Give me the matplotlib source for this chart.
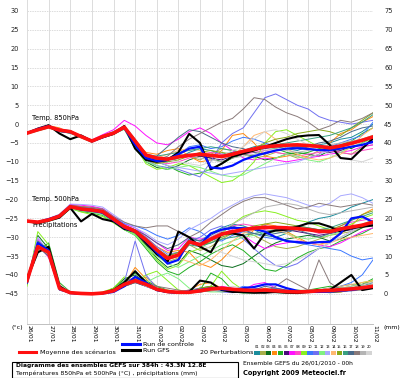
import matplotlib
matplotlib.use('Agg')
import matplotlib.pyplot as plt
from matplotlib.lines import Line2D
from matplotlib.patches import Rectangle
import numpy as np

# time axis in days from 26/01 00h, 12 h steps
days = np.arange(0, 16.01, 0.5)
date_labels = ['26/01', '27/01', '28/01', '29/01', '30/01', '31/01', '01/02', '02/02', '03/02',
               '04/02', '05/02', '06/02', '07/02', '08/02', '09/02', '10/02', '11/02']

###########################################################################
# Temp 850 hPa
t850_mean = [-2.4, -1.5, -0.7, -1.6, -2.0, -3.3, -4.5, -3.3, -2.4, -0.8,
             -4.5, -8.2, -9.0, -9.3, -8.7, -8.3, -8.0, -8.3, -8.6, -8.0, -7.2, -6.6, -6.0,
             -5.8, -5.6, -5.5, -5.7, -5.9, -6.3, -5.8, -5.1, -4.3, -3.4]
t850_ctrl = [-2.4, -1.3, -0.5, -1.8, -2.2, -3.2, -4.6, -3.5, -2.5, -1.0,
             -5.5, -9.0, -9.8, -9.5, -8.0, -6.5, -6.0, -11.5, -11.8, -11.0, -9.5, -8.5, -7.7,
             -7.0, -6.5, -6.4, -6.6, -6.9, -6.9, -6.5, -6.0, -5.5, -4.7]
t850_gfs = [-2.4, -1.2, -0.3, -2.5, -4.0, -3.0, -4.5, -3.5, -2.6, -0.5,
            -6.5, -9.5, -10.0, -9.5, -7.5, -2.6, -5.0, -12.0, -10.5, -8.6, -7.8, -7.0, -6.0,
            -5.0, -4.0, -3.3, -3.0, -2.9, -5.5, -9.0, -9.3, -6.5, -3.8]
t850_pert = [
    [-2.3, -1.4, -0.9, -1.2, -2.2, -3.5, -4.3, -3.0, -2.0, -0.5,
     -4.0, -8.0, -9.5, -10.0, -9.0, -7.5, -6.5, -7.0, -8.0, -7.5, -7.0, -6.0, -5.5, -6.0, -6.5, -7.0, -6.0, -5.5, -5.0, -4.0, -3.5, -2.0, 0.0],
    [-2.5, -1.7, -0.6, -1.8, -1.9, -3.0, -4.6, -3.6, -2.8, -1.2,
     -5.5, -9.0, -10.5, -9.0, -8.0, -8.5, -9.5, -8.0, -6.5, -7.0, -8.0, -9.0, -8.5, -7.5, -8.0, -9.0, -8.5, -7.0, -6.5, -7.5, -8.0, -6.0, -5.5],
    [-2.2, -1.6, -0.8, -1.5, -1.7, -3.2, -4.4, -3.1, -2.5, -1.0,
     -6.0, -10.0, -11.5, -12.0, -11.0, -9.5, -8.5, -9.0, -10.0, -9.0, -8.0, -8.5, -9.5, -9.0, -8.0, -7.5, -8.0, -8.5, -7.0, -6.0, -6.5, -5.0, -3.5],
    [-2.4, -1.3, -0.4, -1.0, -2.3, -3.4, -4.7, -3.2, -2.2, -0.9,
     -4.5, -7.5, -8.0, -7.0, -6.5, -8.5, -10.0, -9.5, -7.0, -3.0, -2.5, -5.0, -8.5, -9.0, -8.5, -8.0, -9.0, -8.0, -5.0, -2.5, -1.5, 0.5, 2.0],
    [-2.6, -1.8, -1.0, -2.0, -2.4, -3.6, -4.8, -3.4, -2.6, -1.3,
     -6.5, -9.5, -10.0, -11.0, -12.5, -13.5, -13.0, -12.0, -10.5, -9.0, -7.5, -6.5, -6.0, -6.5, -7.5, -8.0, -7.5, -6.5, -6.0, -5.5, -4.5, -2.5, -1.0],
    [-2.3, -1.5, -0.7, -1.4, -2.1, -3.3, -4.5, -3.3, -2.3, -0.7,
     -5.0, -8.5, -9.5, -9.0, -8.5, -8.0, -8.5, -9.0, -9.5, -8.5, -7.5, -7.0, -6.5, -6.0, -5.5, -6.0, -6.5, -7.0, -7.5, -7.0, -6.0, -5.5, -4.5],
    [-2.4, -1.6, -0.5, -1.3, -1.8, -3.1, -4.2, -2.8, -1.5, 1.0,
     -0.5, -3.0, -5.0, -5.5, -4.0, -2.0, -1.0, -2.5, -5.0, -7.0, -9.0, -9.5, -9.0, -9.5, -10.0, -9.5, -9.0, -8.5, -8.0, -7.5, -7.0, -6.0, -5.5],
    [-2.5, -1.5, -0.8, -1.7, -2.0, -3.4, -4.6, -3.4, -2.4, -0.6,
     -5.5, -9.0, -10.0, -10.5, -10.0, -9.0, -8.0, -7.5, -8.0, -8.5, -8.0, -7.5, -7.0, -7.5, -8.0, -8.5, -8.0, -7.5, -7.0, -7.5, -8.0, -7.0, -6.5],
    [-2.4, -1.4, -0.6, -1.6, -2.1, -3.2, -4.5, -3.5, -2.7, -1.1,
     -6.0, -10.5, -12.0, -11.5, -10.5, -11.0, -12.5, -14.0, -15.5, -15.0, -13.0, -10.0, -5.0, -2.0, -1.5, -3.0, -4.5, -6.0, -6.5, -6.0, -5.0, -4.0, -3.0],
    [-2.3, -1.5, -0.6, -1.5, -2.1, -3.4, -4.4, -3.2, -2.3, -0.8,
     -5.0, -8.0, -9.0, -9.5, -8.0, -6.0, -5.5, -6.5, -6.0, -4.5, -3.5, -4.0, -5.0, -6.0, -5.5, -6.0, -6.5, -7.0, -6.0, -5.0, -4.0, -3.0, 0.5],
    [-2.4, -1.6, -0.8, -1.8, -2.3, -3.5, -4.6, -3.4, -2.5, -0.9,
     -5.5, -9.5, -11.0, -11.5, -12.0, -13.0, -14.0, -10.0, -5.0, -2.5, -1.0, 3.0, 7.0, 8.0, 6.5, 5.0, 4.0, 2.0, 1.0, 0.5, 0.0, 0.5, 1.0],
    [-2.6, -1.7, -0.9, -1.9, -2.4, -3.6, -4.7, -3.6, -2.6, -1.4,
     -6.5, -10.0, -11.0, -12.0, -11.5, -11.0, -11.5, -12.5, -13.5, -14.0, -13.5, -12.0, -10.5, -9.0, -8.0, -8.5, -9.5, -10.0, -9.0, -7.5, -6.0, -5.0, -4.0],
    [-2.2, -1.3, -0.5, -1.4, -2.0, -3.3, -4.4, -3.1, -2.1, -0.6,
     -4.5, -8.5, -10.0, -11.0, -11.5, -12.0, -12.5, -13.0, -13.5, -13.0, -12.5, -12.0, -11.5, -11.0, -10.5, -10.0, -9.0, -8.0, -7.0, -6.5, -6.0, -5.5, -5.0],
    [-2.5, -1.4, -0.7, -1.5, -2.2, -3.3, -4.5, -3.3, -2.4, -0.7,
     -5.0, -8.5, -9.0, -8.0, -7.0, -6.5, -7.0, -8.0, -9.0, -8.5, -6.0, -3.0, -2.0, -4.0, -6.5, -8.0, -9.0, -9.5, -9.0, -8.0, -6.0, -3.0, -1.0],
    [-2.3, -1.5, -0.8, -1.6, -2.0, -3.2, -4.5, -3.4, -2.5, -1.0,
     -5.5, -9.5, -10.5, -10.0, -9.5, -8.5, -7.5, -7.0, -7.5, -8.0, -7.0, -6.5, -5.0, -4.0, -3.5, -2.5, -2.0, -1.5, -2.0, -3.0, -1.0, 1.0, 3.0],
    [-2.4, -1.5, -0.6, -1.7, -2.2, -3.4, -4.6, -3.3, -2.3, -0.8,
     -5.0, -8.0, -8.5, -8.0, -7.5, -7.0, -6.5, -6.0, -6.5, -7.0, -7.5, -7.0, -6.0, -5.5, -5.0, -4.5, -4.0, -3.5, -3.0, -2.0, -1.0, 0.5, 2.5],
    [-2.3, -1.6, -0.7, -1.5, -2.1, -3.3, -4.5, -3.4, -2.6, -1.1,
     -6.0, -9.0, -8.5, -6.0, -3.5, -1.5, -2.0, -3.5, -5.0, -6.0, -6.5, -7.5, -8.0, -7.0, -6.5, -6.0, -6.0, -5.0, -4.5, -3.5, -2.0, -1.0, -0.5],
    [-2.4, -1.5, -0.6, -1.4, -2.0, -3.2, -4.4, -3.2, -2.2, -0.6,
     -5.0, -9.0, -9.5, -8.5, -6.0, -4.0, -2.5, -1.0, 0.5, 1.5, 4.0, 7.0, 6.5, 4.5, 3.0, 2.0, 0.5, -1.5, -0.5, 1.0, 0.5, 1.5, 3.0],
    [-2.5, -1.6, -0.8, -1.7, -2.2, -3.4, -4.6, -3.5, -2.5, -1.0,
     -5.5, -9.0, -10.0, -9.5, -9.0, -8.5, -9.0, -9.5, -10.0, -9.0, -8.5, -8.0, -7.0, -6.5, -7.0, -7.5, -7.0, -6.0, -5.5, -5.0, -4.5, -4.0, -3.0],
    [-2.3, -1.4, -0.6, -1.5, -2.0, -3.3, -4.5, -3.3, -2.3, -0.7,
     -4.5, -8.0, -9.0, -9.5, -10.0, -10.5, -11.0, -10.0, -8.5, -7.0, -6.0, -4.0, -2.0, -1.5, -2.5, -4.0, -5.5, -7.0, -8.0, -9.0, -9.5, -10.0, -9.0],
]

###########################################################################
# Temp 500 hPa
t500_mean = [-25.7, -26.0, -25.4, -24.4, -21.9, -22.5, -22.8, -23.2, -25.2, -27.2,
             -28.4, -30.7, -33.4, -35.6, -34.7, -31.2, -32.0, -30.5, -29.2, -28.5, -28.0, -27.6, -27.4,
             -27.4, -27.5, -27.7, -28.0, -28.4, -28.5, -27.8, -27.3, -26.8, -26.0]
t500_ctrl = [-25.7, -26.0, -25.2, -24.3, -21.8, -22.7, -23.0, -23.5, -25.5, -27.5,
             -28.6, -31.0, -34.0, -37.0, -36.0, -31.0, -32.0, -29.0, -28.0, -27.5, -27.6, -27.8, -28.5,
             -30.0, -31.0, -31.3, -31.5, -31.3, -31.2, -29.0, -25.0, -24.5, -26.0]
t500_gfs = [-25.7, -26.3, -25.6, -24.8, -22.2, -25.8, -23.8, -25.2, -25.8, -27.8,
            -28.5, -31.5, -34.5, -36.5, -28.5, -30.0, -32.5, -34.0, -29.0, -29.0, -29.5, -33.0, -29.0,
            -28.2, -28.0, -27.2, -26.3, -26.3, -27.2, -28.5, -27.6, -27.2, -26.9]
t500_pert = [
    [-25.6, -26.1, -25.2, -24.0, -21.5, -22.0, -22.5, -23.5, -25.5, -27.5,
     -28.0, -30.5, -33.0, -35.0, -34.0, -30.5, -31.0, -29.0, -27.5, -26.5, -27.0, -28.0, -29.5, -30.0, -29.0, -27.5, -26.0, -25.0, -24.5, -23.5, -22.0, -21.0, -20.0],
    [-25.8, -25.9, -25.5, -24.6, -22.3, -23.0, -23.4, -23.0, -25.0, -27.0,
     -28.5, -31.0, -34.5, -36.5, -35.5, -32.0, -33.5, -32.5, -30.5, -29.0, -28.5, -29.5, -31.0, -32.5, -33.0, -32.5, -31.5, -30.5, -29.5, -29.0, -28.5, -27.5, -26.5],
    [-25.7, -26.2, -25.6, -24.8, -22.0, -22.8, -22.2, -23.8, -25.8, -27.8,
     -29.0, -32.0, -35.5, -38.0, -37.0, -33.5, -34.5, -36.0, -37.5, -38.0, -37.0, -35.0, -33.0, -31.5, -30.5, -30.0, -29.5, -30.0, -31.0, -30.5, -29.0, -27.5, -26.0],
    [-25.7, -25.8, -25.3, -24.2, -21.4, -21.8, -22.0, -22.6, -24.6, -26.8,
     -28.0, -30.0, -32.5, -34.0, -33.5, -34.0, -37.0, -38.0, -36.0, -33.0, -31.0, -28.0, -26.5, -27.0, -28.5, -30.0, -31.5, -32.0, -31.0, -29.0, -27.0, -24.0, -22.5],
    [-25.6, -26.0, -25.7, -24.5, -22.2, -23.2, -23.6, -24.2, -26.0, -28.0,
     -29.5, -33.0, -36.5, -39.0, -40.0, -38.0, -36.5, -34.5, -33.0, -32.0, -33.5, -36.0, -38.5, -39.0, -37.5, -35.5, -34.0, -33.0, -32.5, -31.0, -30.0, -29.0, -27.5],
    [-25.8, -26.1, -25.4, -24.3, -21.7, -22.4, -22.9, -23.1, -25.1, -27.1,
     -28.3, -30.5, -33.5, -35.5, -34.5, -31.5, -32.5, -31.0, -29.5, -28.5, -28.0, -27.5, -27.0, -27.5, -28.0, -28.5, -29.0, -29.5, -29.0, -28.5, -28.0, -27.0, -26.5],
    [-25.7, -25.9, -25.1, -24.1, -21.3, -21.5, -21.8, -22.4, -24.4, -26.5,
     -27.5, -29.5, -31.5, -33.5, -33.0, -30.0, -30.5, -30.0, -29.0, -28.0, -29.5, -31.5, -33.0, -32.0, -31.5, -31.0, -31.5, -32.0, -32.5, -31.5, -30.0, -28.5, -27.5],
    [-25.6, -26.0, -25.5, -24.5, -22.1, -22.6, -23.0, -23.6, -25.6, -27.6,
     -28.8, -31.5, -34.0, -36.0, -35.0, -31.0, -31.5, -30.0, -28.5, -27.0, -26.5, -27.0, -28.0, -28.5, -28.0, -27.5, -28.0, -29.0, -28.5, -27.0, -26.0, -25.5, -25.0],
    [-25.7, -26.1, -25.6, -24.7, -22.4, -23.3, -24.0, -24.5, -26.2, -28.0,
     -29.0, -32.5, -36.0, -38.5, -37.5, -34.0, -33.0, -31.0, -29.0, -26.5, -24.5, -23.5, -23.0, -23.5, -24.5, -25.5, -26.0, -27.0, -28.0, -27.5, -26.5, -25.0, -24.0],
    [-25.8, -26.0, -25.3, -24.2, -21.6, -22.0, -22.3, -22.8, -24.8, -26.4,
     -27.0, -28.0, -29.5, -30.5, -29.5, -27.5, -28.5, -30.5, -31.0, -29.5, -28.5, -29.0, -30.0, -30.5, -31.0, -31.5, -32.0, -32.5, -33.0, -33.5, -35.0, -36.0, -35.5],
    [-25.7, -26.0, -25.4, -24.4, -21.8, -22.6, -23.0, -23.4, -25.3, -27.3,
     -28.0, -30.0, -32.5, -34.5, -34.0, -31.0, -30.0, -28.0, -27.0, -28.5, -30.5, -33.0, -35.5, -37.5, -38.0, -37.0, -35.0, -33.0, -31.5, -30.0, -28.5, -27.0, -26.0],
    [-25.6, -26.2, -25.8, -24.9, -22.5, -23.0, -23.4, -24.0, -26.0, -28.0,
     -29.5, -32.5, -35.0, -37.0, -38.0, -36.5, -35.0, -33.5, -32.0, -31.0, -30.0, -29.5, -29.0, -28.5, -29.0, -30.0, -30.5, -30.0, -29.5, -28.5, -27.5, -26.5, -25.5],
    [-25.7, -25.8, -25.0, -23.9, -21.2, -21.3, -21.5, -22.0, -24.0, -26.0,
     -27.5, -29.0, -31.0, -32.0, -30.5, -28.0, -26.5, -25.0, -23.0, -21.5, -20.0, -19.0, -18.5, -19.0, -19.5, -20.5, -21.5, -22.0, -21.0, -19.0, -18.5, -19.5, -21.0],
    [-25.8, -26.1, -25.5, -24.6, -22.0, -22.7, -23.1, -23.3, -25.4, -27.4,
     -28.5, -31.0, -33.5, -35.0, -35.5, -36.5, -37.5, -36.0, -33.5, -31.0, -29.0, -28.0, -27.5, -28.0, -29.0, -30.5, -31.5, -32.0, -31.5, -30.5, -30.0, -29.5, -29.0],
    [-25.7, -26.0, -25.4, -24.3, -21.9, -22.2, -22.6, -23.0, -25.0, -27.0,
     -28.2, -30.5, -33.0, -35.0, -34.0, -31.5, -32.0, -31.5, -30.0, -29.0, -28.0, -27.0, -26.5, -26.0, -26.5, -27.0, -27.5, -28.0, -28.0, -27.0, -25.5, -24.0, -23.0],
    [-25.6, -26.0, -25.5, -24.4, -22.0, -22.5, -22.8, -23.3, -25.3, -27.3,
     -28.6, -31.0, -33.8, -35.8, -35.0, -32.0, -32.5, -31.5, -30.5, -30.0, -29.5, -29.0, -28.5, -28.0, -27.5, -27.0, -27.5, -28.0, -27.5, -26.5, -25.5, -24.5, -23.5],
    [-25.7, -25.9, -25.2, -24.1, -21.6, -22.3, -22.4, -22.9, -24.9, -26.8,
     -28.0, -29.5, -31.5, -33.0, -32.0, -30.0, -31.0, -29.5, -28.0, -27.0, -28.0, -29.0, -29.5, -29.0, -28.5, -28.0, -29.0, -30.0, -29.0, -28.0, -27.5, -27.0, -26.5],
    [-25.7, -26.0, -25.3, -24.2, -21.5, -21.9, -22.1, -22.5, -24.5, -26.0,
     -27.0, -27.5, -27.0, -27.0, -28.5, -30.0, -28.5, -26.0, -24.0, -22.0, -20.5, -19.5, -19.5, -20.5, -21.5, -22.5, -22.0, -21.0, -21.5, -22.0, -21.5, -21.0, -21.5],
    [-25.8, -26.1, -25.6, -24.6, -22.2, -22.7, -23.0, -23.5, -25.5, -27.5,
     -28.5, -31.0, -34.0, -36.0, -35.0, -31.5, -31.5, -30.0, -28.5, -26.5, -25.0, -23.5, -22.0, -21.5, -21.0, -21.5, -22.5, -23.5, -24.0, -23.5, -23.0, -22.5, -22.0],
    [-25.6, -26.0, -25.4, -24.5, -21.8, -22.4, -22.7, -23.2, -25.2, -27.3,
     -28.4, -30.8, -33.5, -35.5, -34.5, -31.0, -32.0, -33.0, -34.0, -35.0, -36.0, -36.5, -37.0, -37.5, -37.0, -36.0, -34.5, -33.0, -31.5, -30.0, -28.5, -27.0, -25.5],
]

###########################################################################
# Precipitations (mm)
rr_mean = [3.5, 12.5, 11.0, 1.5, 0.3, 0.1, 0.0, 0.2, 0.8, 2.5, 3.5, 2.5, 1.2, 0.6, 0.4, 0.4, 0.8,
           1.3, 1.5, 1.2, 1.0, 0.9, 1.0, 0.8, 0.6, 0.5, 0.6, 0.8, 0.9, 1.1, 1.3, 1.6, 2.0]
rr_ctrl = [3.0, 13.5, 11.5, 1.5, 0.2, 0.0, 0.0, 0.1, 0.5, 2.0, 4.5, 3.0, 1.0, 0.5, 0.3, 0.5, 1.0,
           1.5, 1.2, 1.0, 1.5, 1.8, 2.5, 2.5, 1.5, 0.8, 0.5, 0.5, 0.6, 0.8, 1.0, 1.5, 2.0]
rr_gfs = [4.0, 11.0, 12.5, 2.0, 0.3, 0.0, 0.0, 0.2, 1.0, 3.0, 6.0, 3.0, 1.0, 0.5, 0.3, 0.5, 3.5,
          3.0, 1.0, 0.5, 0.5, 0.3, 0.3, 0.5, 0.3, 0.2, 0.5, 1.0, 1.0, 3.0, 5.0, 1.0, 1.5]
rr_pert = [
    [3.0, 14.0, 10.5, 1.0, 0.2, 0.0, 0.0, 0.3, 1.0, 3.0, 4.0, 2.0, 1.0, 0.5, 0.2, 0.3, 0.5, 1.0, 1.5, 1.0, 0.5, 0.5, 0.8, 0.5, 0.3, 0.2, 0.5, 1.0, 1.5, 2.0, 2.5, 2.0, 3.0],
    [4.0, 12.0, 11.5, 2.0, 0.5, 0.1, 0.0, 0.0, 0.5, 2.0, 3.0, 4.5, 2.0, 0.5, 0.2, 0.2, 0.5, 0.8, 1.0, 0.5, 0.3, 0.5, 1.0, 1.0, 0.5, 0.3, 0.3, 0.5, 0.8, 1.0, 1.5, 2.5, 3.5],
    [2.5, 15.5, 12.0, 1.5, 0.3, 0.0, 0.0, 0.2, 1.5, 4.0, 5.0, 3.0, 1.5, 0.5, 0.3, 0.5, 1.5, 2.0, 1.0, 0.5, 0.2, 0.2, 0.5, 0.8, 0.5, 0.3, 0.5, 0.5, 0.3, 0.5, 1.0, 1.5, 2.0],
    [3.5, 13.0, 12.5, 2.5, 0.4, 0.1, 0.0, 0.1, 0.5, 2.5, 7.0, 4.0, 1.0, 0.5, 0.5, 1.0, 2.5, 3.0, 1.5, 1.0, 0.5, 0.5, 1.5, 1.0, 0.5, 0.5, 1.0, 1.0, 0.5, 0.5, 1.0, 1.5, 2.0],
    [4.5, 11.5, 13.5, 3.0, 0.5, 0.2, 0.0, 0.3, 1.2, 3.5, 5.5, 3.5, 2.0, 1.0, 0.5, 0.5, 1.0, 5.5, 4.0, 1.0, 0.5, 1.0, 0.5, 0.3, 0.2, 0.5, 1.0, 1.5, 2.0, 1.5, 1.0, 2.5, 4.0],
    [3.0, 12.5, 10.0, 1.5, 0.2, 0.0, 0.0, 0.2, 0.6, 2.0, 3.0, 2.0, 1.0, 0.3, 0.2, 0.3, 0.8, 1.2, 1.0, 0.8, 0.5, 0.5, 0.5, 0.5, 0.3, 0.3, 0.5, 0.5, 0.8, 1.0, 1.2, 1.5, 2.0],
    [3.5, 14.5, 11.0, 1.0, 0.2, 0.0, 0.0, 0.0, 0.8, 3.0, 4.5, 2.5, 1.0, 0.5, 0.5, 0.3, 0.5, 1.0, 2.0, 1.5, 1.0, 2.5, 3.0, 1.5, 0.8, 0.5, 0.5, 0.8, 1.0, 1.5, 1.0, 1.5, 2.5],
    [4.0, 13.5, 9.5, 1.5, 0.3, 0.1, 0.0, 0.2, 0.7, 2.5, 3.5, 2.5, 1.5, 0.8, 0.5, 0.5, 1.0, 1.5, 1.0, 0.5, 0.5, 0.8, 1.0, 0.8, 0.5, 0.5, 0.5, 0.8, 1.0, 1.0, 1.5, 2.0, 2.5],
    [2.0, 16.5, 13.0, 2.0, 0.5, 0.2, 0.0, 0.5, 1.5, 4.5, 3.0, 5.0, 6.0, 3.5, 1.0, 0.5, 0.8, 2.0, 6.0, 3.0, 1.0, 0.5, 0.3, 0.5, 0.5, 1.0, 0.8, 0.5, 1.0, 1.5, 2.0, 3.0, 3.5],
    [3.5, 12.0, 12.0, 1.5, 0.2, 0.0, 0.0, 0.1, 0.5, 2.0, 3.5, 2.0, 1.0, 0.5, 0.3, 0.5, 0.5, 1.0, 1.5, 1.0, 2.0, 1.5, 1.0, 0.5, 0.5, 0.3, 0.5, 1.0, 1.5, 2.0, 3.0, 5.0, 9.0],
    [3.0, 13.0, 11.5, 1.2, 0.3, 0.0, 0.0, 0.2, 1.0, 3.0, 14.0, 5.0, 1.5, 0.5, 0.5, 1.0, 1.5, 1.0, 0.5, 0.3, 0.5, 0.5, 1.0, 1.5, 1.0, 0.5, 0.3, 0.5, 0.5, 0.8, 1.0, 1.5, 2.0],
    [4.5, 12.5, 12.5, 2.0, 0.4, 0.1, 0.0, 0.3, 1.0, 3.0, 4.0, 3.0, 4.5, 5.5, 4.0, 1.5, 0.8, 0.5, 0.5, 0.8, 1.0, 0.5, 0.3, 0.5, 0.5, 0.8, 1.0, 0.8, 0.5, 0.8, 1.0, 1.5, 2.0],
    [3.0, 15.0, 11.0, 1.5, 0.3, 0.1, 0.0, 0.2, 0.8, 2.5, 3.5, 2.0, 1.0, 0.5, 0.3, 0.5, 1.0, 1.5, 1.0, 0.5, 0.5, 1.0, 0.5, 0.3, 0.3, 0.5, 0.5, 0.5, 0.8, 1.0, 1.5, 2.0, 2.5],
    [3.5, 12.0, 10.5, 1.5, 0.2, 0.0, 0.0, 0.2, 0.6, 2.0, 3.0, 2.5, 1.5, 1.0, 0.5, 0.5, 1.0, 1.5, 1.0, 0.5, 0.5, 0.5, 0.5, 0.5, 0.5, 0.5, 0.8, 1.0, 1.5, 2.0, 2.5, 3.0, 3.5],
    [4.0, 13.5, 12.0, 2.0, 0.4, 0.1, 0.0, 0.3, 1.0, 2.5, 4.0, 3.0, 1.5, 0.8, 0.5, 0.5, 1.5, 2.0, 1.5, 1.0, 0.8, 0.5, 0.5, 0.5, 0.5, 0.5, 0.8, 1.0, 1.0, 1.5, 1.5, 2.0, 2.5],
    [3.0, 14.0, 11.5, 1.8, 0.3, 0.0, 0.0, 0.2, 0.8, 2.5, 3.5, 2.5, 1.2, 0.6, 0.4, 0.5, 1.0, 1.5, 1.2, 0.8, 0.5, 0.5, 0.5, 0.5, 0.5, 0.5, 0.5, 0.8, 1.0, 1.2, 1.5, 2.0, 2.5],
    [3.5, 12.5, 10.0, 1.0, 0.2, 0.0, 0.0, 0.1, 0.5, 2.0, 3.0, 2.0, 1.0, 0.5, 0.5, 0.8, 1.0, 1.5, 1.0, 0.5, 0.5, 1.0, 2.0, 1.5, 1.0, 0.5, 0.5, 0.5, 0.5, 1.0, 1.5, 1.5, 2.0],
    [3.0, 12.0, 11.0, 1.5, 0.3, 0.1, 0.0, 0.3, 1.0, 3.0, 4.5, 3.0, 2.0, 1.5, 1.0, 0.5, 0.5, 0.8, 1.0, 0.8, 0.5, 0.5, 0.3, 2.0, 4.0, 2.5, 1.0, 9.0, 3.0, 1.0, 0.8, 1.0, 1.5],
    [4.0, 13.0, 12.0, 2.0, 0.5, 0.1, 0.0, 0.2, 0.8, 2.5, 3.5, 2.5, 1.5, 0.8, 0.5, 0.5, 1.0, 1.0, 0.8, 0.5, 0.5, 0.5, 0.5, 0.5, 0.5, 0.8, 1.0, 1.0, 1.0, 1.5, 2.0, 2.5, 3.0],
    [3.5, 11.0, 12.5, 2.5, 0.5, 0.1, 0.0, 0.2, 0.7, 2.5, 3.5, 2.0, 1.0, 0.5, 0.3, 0.5, 0.8, 1.0, 1.5, 2.0, 1.5, 1.0, 0.5, 0.5, 0.3, 0.3, 0.5, 0.8, 1.0, 1.0, 1.5, 2.0, 2.5],
]

pert_colors = ['#1a8c9c', '#a8b04a', '#0a6e1e', '#ff8a10', '#22b022', '#4a0a7a', '#ff10ff', '#ff48c8',
               '#88f020', '#3c78ff', '#7070f0', '#80f080', '#a8a8ff', '#ffb870', '#88a818', '#38a080',
               '#4a6a8a', '#8a7a7a', '#b4b4b4', '#d4d4d4']

##########################################################################
W, H = 400, 378
fig = plt.figure(figsize=(W / 100, H / 100), dpi=100)
fig.patch.set_facecolor('white')

ax = fig.add_axes([27 / W, 1 - 324 / H, 346 / W, 324 / H])
ax.set_xlim(0, 16)
ax.set_ylim(-53, 32.9)
ax2 = ax.twinx()
ax2.set_ylim(-53 + 45, 32.9 + 45)

grid_c = '#dcdcdc'
for yv in range(-45, 31, 5):
    ax.axhline(yv, color=grid_c, lw=0.7, ls=(0, (1.5, 1)), zorder=0)
for d in range(17):
    ax.axvline(d, color=grid_c, lw=0.7, zorder=0)

for a in (ax, ax2):
    for s in a.spines.values():
        s.set_visible(False)
ax.spines['bottom'].set_visible(True)
ax.spines['bottom'].set_color('#c0c0c0')
ax.spines['bottom'].set_linewidth(0.7)

# perturbations
for i in range(20):
    ax.plot(days, t850_pert[i], color=pert_colors[i], lw=0.7, zorder=2)
    ax.plot(days, t500_pert[i], color=pert_colors[i], lw=0.7, zorder=2)
    ax2.plot(days, rr_pert[i], color=pert_colors[i], lw=0.7, zorder=2)

ax.plot(days, t850_gfs, color='black', lw=1.5, zorder=3)
ax.plot(days, t500_gfs, color='black', lw=1.5, zorder=3)
ax2.plot(days, rr_gfs, color='black', lw=1.5, zorder=3)
ax.plot(days, t850_ctrl, color='#0010ff', lw=1.6, zorder=4)
ax.plot(days, t500_ctrl, color='#0010ff', lw=1.6, zorder=4)
ax2.plot(days, rr_ctrl, color='#0010ff', lw=1.6, zorder=4)
ax.plot(days, t850_mean, color='#ff1010', lw=2.6, zorder=5)
ax.plot(days, t500_mean, color='#ff1010', lw=2.6, zorder=5)
ax2.plot(days, rr_mean, color='#ff1010', lw=2.6, zorder=5)

tick_fs = 4.8
ax.set_yticks(range(-45, 31, 5))
ax.tick_params(axis='y', length=0, pad=6, labelsize=tick_fs, labelcolor='#222222')
ax2.set_yticks(range(0, 76, 5))
ax2.tick_params(axis='y', length=0, pad=8, labelsize=tick_fs, labelcolor='#222222')
ax.set_xticks(range(17))
ax.set_xticklabels(date_labels, rotation=270, fontsize=4.4, ha='left', va='top')
ax.tick_params(axis='x', length=0, pad=0.5)

ax.text(0.23, 1.7, 'Temp. 850hPa', fontsize=4.8, va='center')
ax.text(0.23, -19.9, 'Temp. 500hPa', fontsize=4.8, va='center')
ax.text(0.23, -26.5, 'Précipitations', fontsize=4.8, va='center')

fig.text(12 / W, 1 - 327 / H, '(°c)', fontsize=4.6, va='center')
fig.text(384 / W, 1 - 327 / H, '(mm)', fontsize=4.4, va='center')

def fx(x):
    return x / W

def fy(y):
    return 1 - y / H

# legend
fig.add_artist(Line2D([fx(122), fx(140)], [fy(344), fy(344)], color='#0010ff', lw=2.2))
fig.text(fx(143), fy(344.5), 'Run de controle', fontsize=4.6, va='center')
fig.add_artist(Line2D([fx(122), fx(140)], [fy(350), fy(350)], color='black', lw=2.2))
fig.text(fx(143), fy(350.5), 'Run GFS', fontsize=4.6, va='center')
fig.add_artist(Line2D([fx(19), fx(36)], [fy(352), fy(352)], color='#ff1010', lw=2.2))
fig.text(fx(40), fy(352.5), 'Moyenne des scénarios', fontsize=4.6, va='center')
fig.text(fx(200), fy(353), '20 Perturbations', fontsize=4.6, va='center')
for i in range(20):
    x0 = 254 + i * 5.9
    fig.text(fx(x0 + 2.7), fy(346.5), '%02d' % (i + 1), fontsize=2.6, ha='center', va='center')
    fig.patches.append(Rectangle((fx(x0), fy(355)), 5.6 / W, 4 / H, transform=fig.transFigure,
                                 facecolor=pert_colors[i], edgecolor='none'))

fig.patches.append(Rectangle((fx(12), fy(377.5)), 226 / W, 16 / H, transform=fig.transFigure,
                             facecolor='none', edgecolor='black', lw=0.8))
fig.text(fx(16), fy(365.5), 'Diagramme des ensembles GEFS sur 384h : 43.3N 12.8E',
         fontsize=4.35, fontweight='bold', va='center')
fig.text(fx(16), fy(373.5), 'Températures 850hPa et 500hPa (°C) , précipitations (mm)',
         fontsize=4.4, va='center')
fig.text(fx(243), fy(363), 'Ensemble GEFS du 26/01/2010 - 00h', fontsize=4.3, va='center')
fig.text(fx(243), fy(373), 'Copyright 2009 Meteociel.fr', fontsize=4.7, fontweight='bold', va='center')

fig.savefig('out.png', dpi=100)
